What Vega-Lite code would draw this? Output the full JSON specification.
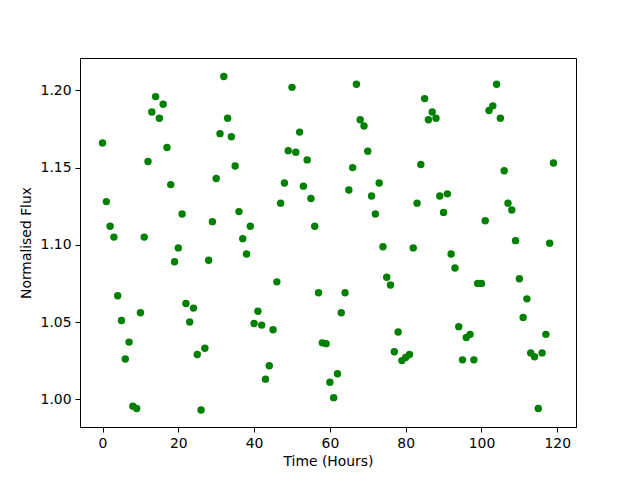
{
  "$schema": "https://vega.github.io/schema/vega-lite/v6.json",
  "autosize": {"type": "none"},
  "width": 496,
  "height": 369,
  "padding": {"left": 80, "top": 58, "right": 64, "bottom": 53},
  "background": "white",
  "config": {
    "view": {"stroke": "black", "strokeWidth": 1},
    "font": "DejaVu Sans",
    "axis": {
      "grid": false,
      "domainColor": "black",
      "tickColor": "black",
      "tickSize": 5,
      "labelColor": "black",
      "titleColor": "black",
      "labelFont": "DejaVu Sans",
      "titleFont": "DejaVu Sans",
      "labelFontSize": 13.9,
      "titleFontSize": 13.9,
      "titleFontWeight": "normal",
      "labelPadding": 4,
      "labelFlush": false,
      "labelOverlap": false
    }
  },
  "data": {
    "values": [
      {"t":0,"f":1.166},{"t":1,"f":1.128},{"t":2,"f":1.112},{"t":3,"f":1.105},{"t":4,"f":1.067},
      {"t":5,"f":1.051},{"t":6,"f":1.026},{"t":7,"f":1.037},{"t":8,"f":0.9955},{"t":9,"f":0.994},
      {"t":10,"f":1.056},{"t":11,"f":1.105},{"t":12,"f":1.154},{"t":13,"f":1.186},{"t":14,"f":1.196},
      {"t":15,"f":1.182},{"t":16,"f":1.191},{"t":17,"f":1.163},{"t":18,"f":1.139},{"t":19,"f":1.089},
      {"t":20,"f":1.098},{"t":21,"f":1.120},{"t":22,"f":1.062},{"t":23,"f":1.050},{"t":24,"f":1.059},
      {"t":25,"f":1.029},{"t":26,"f":0.993},{"t":27,"f":1.033},{"t":28,"f":1.090},{"t":29,"f":1.115},
      {"t":30,"f":1.143},{"t":31,"f":1.172},{"t":32,"f":1.209},{"t":33,"f":1.182},{"t":34,"f":1.170},
      {"t":35,"f":1.151},{"t":36,"f":1.1215},{"t":37,"f":1.104},{"t":38,"f":1.094},{"t":39,"f":1.112},
      {"t":40,"f":1.049},{"t":41,"f":1.057},{"t":42,"f":1.048},{"t":43,"f":1.013},{"t":44,"f":1.0217},
      {"t":45,"f":1.045},{"t":46,"f":1.076},{"t":47,"f":1.127},{"t":48,"f":1.140},{"t":49,"f":1.161},
      {"t":50,"f":1.202},{"t":51,"f":1.160},{"t":52,"f":1.173},{"t":53,"f":1.138},{"t":54,"f":1.155},
      {"t":55,"f":1.130},{"t":56,"f":1.112},{"t":57,"f":1.069},{"t":58,"f":1.0365},{"t":59,"f":1.036},
      {"t":60,"f":1.011},{"t":61,"f":1.001},{"t":62,"f":1.0165},{"t":63,"f":1.056},{"t":64,"f":1.069},
      {"t":65,"f":1.1355},{"t":66,"f":1.150},{"t":67,"f":1.204},{"t":68,"f":1.181},{"t":69,"f":1.177},
      {"t":70,"f":1.1606},{"t":71,"f":1.1316},{"t":72,"f":1.120},{"t":73,"f":1.140},{"t":74,"f":1.0988},
      {"t":75,"f":1.079},{"t":76,"f":1.074},{"t":77,"f":1.0307},{"t":78,"f":1.0435},{"t":79,"f":1.025},
      {"t":80,"f":1.027},{"t":81,"f":1.029},{"t":82,"f":1.098},{"t":83,"f":1.127},{"t":84,"f":1.152},
      {"t":85,"f":1.1947},{"t":86,"f":1.181},{"t":87,"f":1.186},{"t":88,"f":1.182},{"t":89,"f":1.1316},
      {"t":90,"f":1.121},{"t":91,"f":1.133},{"t":92,"f":1.094},{"t":93,"f":1.085},{"t":94,"f":1.047},
      {"t":95,"f":1.0255},{"t":96,"f":1.040},{"t":97,"f":1.042},{"t":98,"f":1.0255},{"t":99,"f":1.075},
      {"t":100,"f":1.075},{"t":101,"f":1.1156},{"t":102,"f":1.187},{"t":103,"f":1.190},{"t":104,"f":1.204},
      {"t":105,"f":1.182},{"t":106,"f":1.148},{"t":107,"f":1.127},{"t":108,"f":1.1226},{"t":109,"f":1.1027},
      {"t":110,"f":1.078},{"t":111,"f":1.053},{"t":112,"f":1.065},{"t":113,"f":1.030},{"t":114,"f":1.0275},
      {"t":115,"f":0.994},{"t":116,"f":1.030},{"t":117,"f":1.042},{"t":118,"f":1.101},{"t":119,"f":1.153}
    ]
  },
  "mark": {"type": "point", "filled": true, "color": "#008000", "opacity": 1, "size": 55, "shape": "circle"},
  "encoding": {
    "x": {
      "field": "t", "type": "quantitative",
      "scale": {"domain": [-5.95, 124.95], "nice": false, "zero": false},
      "axis": {"title": "Time (Hours)", "values": [0,20,40,60,80,100,120], "format": "d", "titlePadding": 5}
    },
    "y": {
      "field": "f", "type": "quantitative",
      "scale": {"domain": [0.982, 1.221], "nice": false, "zero": false},
      "axis": {"title": "Normalised Flux", "values": [1.0,1.05,1.1,1.15,1.2], "format": ".2f", "titlePadding": 7}
    }
  }
}
